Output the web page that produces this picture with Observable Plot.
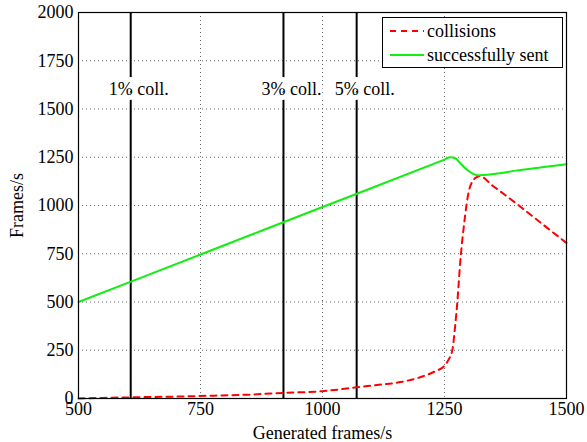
<!DOCTYPE html>
<html>
<head>
<meta charset="utf-8">
<script src="https://cdn.jsdelivr.net/npm/d3@7"></script>
<script src="https://cdn.jsdelivr.net/npm/@observablehq/plot@0.6"></script>
<style>
  html, body { margin: 0; padding: 0; background: white; }
  #wrap { position: relative; width: 587px; height: 442px; font-family: 'Liberation Serif', 'Times New Roman', Times, 'DejaVu Serif', serif; }
  #legend { position: absolute; left: 382px; top: 17px; width: 179px; height: 49px; border: 1.5px solid black; background: white; font-size: 18px; font-family: 'Liberation Serif', 'Times New Roman', Times, 'DejaVu Serif', serif; }
  .row { position: absolute; left: 0; height: 24px; display: flex; align-items: center; }
  .row svg { margin-left: 7px; margin-right: 3px; }
  svg text { font-family: 'Liberation Serif', 'Times New Roman', Times, 'DejaVu Serif', serif; }
</style>
</head>
<body>
<div id="wrap">
  <div id="chart"></div>
  <div id="legend">
    <div class="row" style="top:1px"><svg width="34" height="6"><line x1="0" y1="3" x2="34" y2="3" stroke="#ff0000" stroke-width="2" stroke-dasharray="6,5"/></svg><span>collisions</span></div>
    <div class="row" style="top:25px"><svg width="34" height="6"><line x1="0" y1="3" x2="34" y2="3" stroke="#11ee11" stroke-width="2"/></svg><span>successfully sent</span></div>
  </div>
</div>
<script>
const xTicks = [500, 750, 1000, 1250, 1500];
const yTicks = [0, 250, 500, 750, 1000, 1250, 1500, 1750, 2000];

const collX = [607, 920, 1070];
const collLabels = ["1% coll.", "3% coll.", "5% coll."];

const redX = [500, 550, 607, 700, 750, 850, 920, 1000, 1070, 1120, 1160, 1200, 1230, 1250, 1258, 1266, 1272, 1276, 1283, 1290, 1300, 1313, 1322, 1350, 1400, 1450, 1500];
const redY = [0, 3, 6, 10, 13, 20, 29, 38, 58, 72, 85, 110, 140, 170, 200, 250, 380, 490, 730, 900, 1075, 1142, 1152, 1100, 1005, 905, 806];

const greenX = [500, 750, 1000, 1250, 1262, 1272, 1285, 1300, 1317, 1350, 1400, 1450, 1500];
const greenY = [500, 746, 992, 1238, 1250, 1245, 1212, 1178, 1157, 1163, 1182, 1198, 1214];

const red = redX.map((x, i) => ({x, y: redY[i]}));
const green = greenX.map((x, i) => ({x, y: greenY[i]}));
const coll = collX.map((x, i) => ({x, label: collLabels[i]}));

const serif = "'Liberation Serif', 'Times New Roman', Times, 'DejaVu Serif', serif";

const chart = Plot.plot({
  width: 587,
  height: 442,
  marginLeft: 78,
  marginRight: 21,
  marginTop: 12,
  marginBottom: 44,
  style: {fontFamily: serif, fontSize: "18px", color: "black", background: "white"},
  x: {domain: [500, 1500]},
  y: {domain: [0, 2000]},
  marks: [
    Plot.gridX(xTicks, {stroke: "#666", strokeOpacity: 1, strokeDasharray: "1,3"}),
    Plot.gridY(yTicks, {stroke: "#666", strokeOpacity: 1, strokeDasharray: "1,3"}),
    Plot.ruleX(coll, {x: "x", stroke: "black", strokeWidth: 2}),
    Plot.text(coll, {x: "x", y: () => 1600, text: "label", dx: 8, fill: "black", stroke: "white", strokeWidth: 10, fontSize: 18, fontFamily: serif}),
    Plot.line(red, {x: "x", y: "y", stroke: "#ff0000", strokeWidth: 2, strokeDasharray: "6,5", curve: "monotone-x"}),
    Plot.line(green, {x: "x", y: "y", stroke: "#11ee11", strokeWidth: 2, curve: "monotone-x"}),
    Plot.frame({stroke: "black", strokeWidth: 1.2}),
    Plot.axisX(xTicks, {tickSize: 0, tickPadding: 4, fontSize: 18, fontFamily: serif, tickFormat: "d", label: "Generated frames/s", labelAnchor: "center", labelArrow: "none", labelOffset: 40}),
    Plot.axisY(yTicks, {tickSize: 0, tickPadding: 5, fontSize: 18, fontFamily: serif, tickFormat: "d", label: "Frames/s", labelAnchor: "center", labelArrow: "none", labelOffset: 68})
  ]
});
document.getElementById("chart").appendChild(chart);
</script>
</body>
</html>
